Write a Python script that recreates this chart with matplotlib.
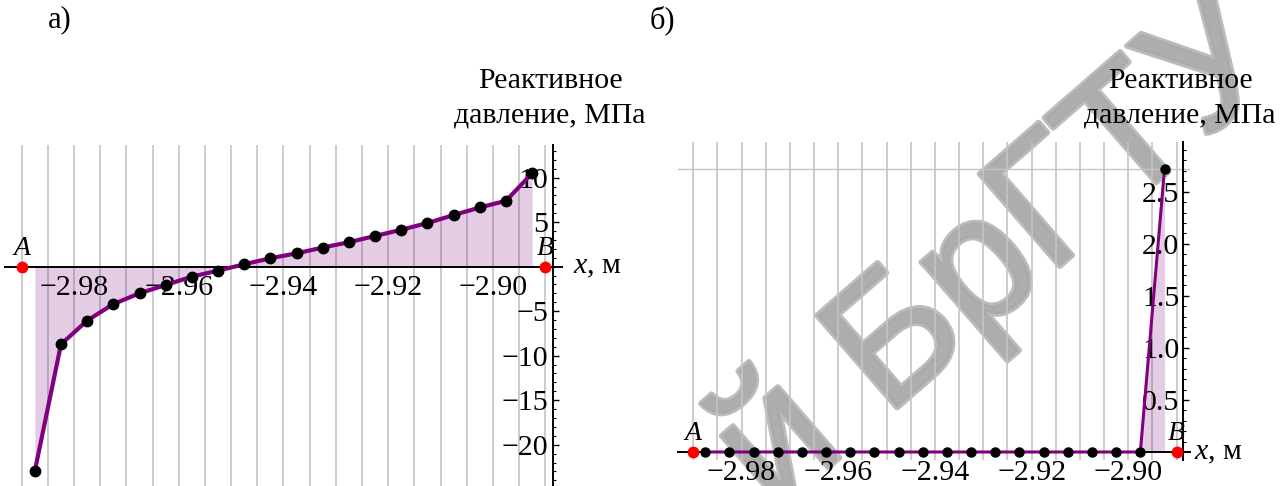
import matplotlib
matplotlib.use("Agg")
import matplotlib.pyplot as plt
import matplotlib.patheffects as pe
from matplotlib.ticker import FixedLocator, FixedFormatter, MultipleLocator

plt.rcParams['font.family'] = ['Liberation Serif', 'DejaVu Serif']
plt.rcParams['mathtext.fontset'] = 'custom'
plt.rcParams['mathtext.it'] = 'Liberation Serif:italic'
plt.rcParams['mathtext.rm'] = 'Liberation Serif'

# element midpoints along the beam, m
x_mid = [-2.9875, -2.9825, -2.9775, -2.9725, -2.9675, -2.9625, -2.9575, -2.9525,
         -2.9475, -2.9425, -2.9375, -2.9325, -2.9275, -2.9225, -2.9175, -2.9125,
         -2.9075, -2.9025, -2.8975, -2.8925]
# element boundaries (grid lines)
x_nodes = [-2.99, -2.985, -2.98, -2.975, -2.97, -2.965, -2.96, -2.955, -2.95, -2.945,
           -2.94, -2.935, -2.93, -2.925, -2.92, -2.915, -2.91, -2.905, -2.90, -2.895, -2.89]

p_a = [-22.95, -8.72, -6.05, -4.2, -2.99, -2.06, -1.12, -0.45, 0.27, 0.95,
       1.5, 2.15, 2.75, 3.45, 4.15, 4.9, 5.8, 6.65, 7.4, 10.5]
p_b = [0, 0, 0, 0, 0, 0, 0, 0, 0, 0, 0, 0, 0, 0, 0, 0, 0, 0, 0, 2.72]

ends_x = [-2.99, -2.89]
ends_lbl = ['A', 'B']
y_axis_x = -2.8886

xt = [-2.98, -2.96, -2.94, -2.92, -2.90]
xt_lbl = ['\u22122.98', '\u22122.96', '\u22122.94', '\u22122.92', '\u22122.90']
yt_a = [-20, -15, -10, -5, 5, 10]
yt_a_lbl = ['\u221220', '\u221215', '\u221210', '\u22125', '5', '10']
yt_b = [0.5, 1.0, 1.5, 2.0, 2.5]
yt_b_lbl = ['0.5', '1.0', '1.5', '2.0', '2.5']

W, H = 1283, 486
fig = plt.figure(figsize=(W / 100, H / 100), dpi=100)

purple = '#800080'
grid_c = '#c4c4c4'
fs = 21.5


def setup(ax, vals, yt, yt_lbl, ymin_step, lw, ms):
    ax.set_facecolor('none')
    for gx in x_nodes:
        ax.axvline(gx, color=grid_c, lw=1.2, zorder=0)
    ax.fill_between(x_mid, vals, 0, color=purple, alpha=0.2, lw=0, zorder=1)
    ax.plot(x_mid, vals, color=purple, lw=lw, zorder=3)
    ax.plot(x_mid, vals, 'o', color='black', ms=ms, zorder=4)
    ax.plot(ends_x, [0, 0], 'o', color='red', ms=7.5, zorder=5, clip_on=False)

    ax.spines['top'].set_visible(False)
    ax.spines['right'].set_visible(False)
    ax.spines['left'].set_position(('data', y_axis_x))
    ax.spines['bottom'].set_position(('data', 0))
    for s in ('left', 'bottom'):
        ax.spines[s].set_linewidth(1.4)
        ax.spines[s].set_zorder(2)

    ax.xaxis.set_major_locator(FixedLocator(xt))
    ax.xaxis.set_major_formatter(FixedFormatter(xt_lbl))
    ax.tick_params(axis='x', length=0, pad=6, labelsize=fs)
    ax.yaxis.set_major_locator(FixedLocator(yt))
    ax.yaxis.set_major_formatter(FixedFormatter(yt_lbl))
    ax.yaxis.set_minor_locator(MultipleLocator(ymin_step))
    ax.tick_params(axis='y', which='major', direction='in', length=4.5, width=1.0,
                   pad=3, labelsize=fs)
    ax.tick_params(axis='y', which='minor', direction='in', length=2.5, width=0.8)
    for lx, ll in zip(ends_x, ends_lbl):
        ax.annotate(ll, (lx, 0), xytext=(0, 13), textcoords='offset points',
                    ha='center', va='center', fontsize=20, style='italic', zorder=6)


# a)
ax1 = fig.add_axes([5 / W, 0, 557 / W, 341 / H])
ax1.set_xlim(-2.9932, -2.8868)
ax1.set_ylim(-24.64, 13.67)
setup(ax1, p_a, yt_a, yt_a_lbl, 1, 3.0, 7.5)

# б)
ax2 = fig.add_axes([678 / W, 26 / H, 512 / W, 318.3 / H])
ax2.set_xlim(-2.99314, -2.88723)
ax2.set_ylim(-0.077, 2.98)
ax2.axhline(max(p_b), color=grid_c, lw=1.0, zorder=0)
setup(ax2, p_b, yt_b, yt_b_lbl, 0.1, 2.2, 6.5)

# labels
fig.text(60 / W, 1 - 20 / H, 'а)', fontsize=22, ha='center', va='center')
fig.text(662 / W, 1 - 20 / H, 'б)', fontsize=22, ha='center', va='center')
for cx in (550, 1180):
    fig.text(cx / W, 1 - 98 / H, 'Реактивное\nдавление, МПа', fontsize=fs,
             ha='center', va='center', ma='center', linespacing=1.45)
fig.text(573 / W, 1 - 267 / H, '$x$, м', fontsize=fs, ha='left', va='center')
fig.text(1194 / W, 1 - 453 / H, '$x$, м', fontsize=fs, ha='left', va='center')

# watermark of the source document
wm = fig.text(1000 / W, 1 - 255 / H, 'й БрГТУ', fontsize=128, color='#ababab', alpha=0.8,
              family='Liberation Sans', rotation=41,
              ha='center', va='center', rotation_mode='anchor', zorder=-1)
wm.set_path_effects([pe.withStroke(linewidth=4, foreground='#ababab')])

fig.savefig('out.png', dpi=100)
